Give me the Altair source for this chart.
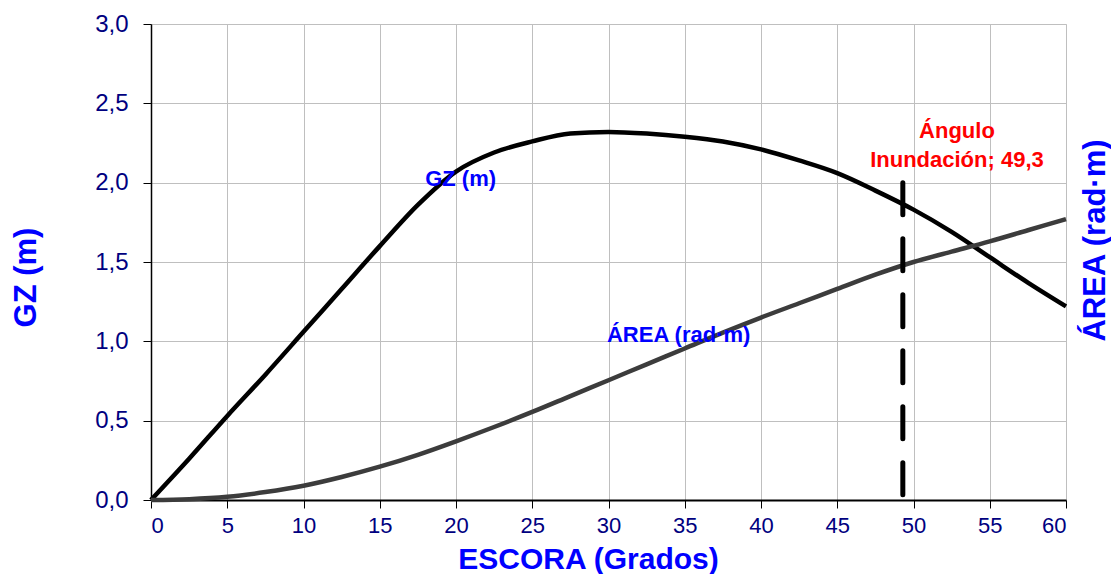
import altair as alt
import pandas as pd

# ---- data ----
escora = [0, 2.5, 5, 7.5, 10, 12.5, 15, 17.5, 20, 22.5, 25, 27.5, 30, 32.5, 35,
          37.5, 40, 42.5, 45, 47.5, 50, 52.5, 55, 57.5, 60]
gz = [0.0, 0.26, 0.53, 0.79, 1.06, 1.33, 1.60, 1.86, 2.07, 2.19, 2.26, 2.31, 2.32,
      2.31, 2.29, 2.26, 2.21, 2.14, 2.06, 1.95, 1.83, 1.69, 1.53, 1.37, 1.22]
area = [0.0, 0.005, 0.02, 0.05, 0.09, 0.145, 0.21, 0.285, 0.37, 0.46, 0.555, 0.655,
        0.755, 0.855, 0.955, 1.055, 1.15, 1.24, 1.33, 1.42, 1.50, 1.565, 1.63, 1.70, 1.77]
flood_angle = 49.3
flood_top = 2.0
x_ticks = [0, 5, 10, 15, 20, 25, 30, 35, 40, 45, 50, 55, 60]
y_ticks = [0.0, 0.5, 1.0, 1.5, 2.0, 2.5, 3.0]

df = pd.DataFrame({"escora": escora, "gz": gz, "area": area})

FONT = "Liberation Sans"
NAVY = "#000080"
BLUE = "#0000ff"

xscale = alt.Scale(domain=[0, 60], nice=False, zero=False)
yscale = alt.Scale(domain=[0, 3], nice=False)

xaxis = alt.Axis(values=x_ticks, title="ESCORA (Grados)", labelFontSize=22,
                 labelColor=NAVY, labelFont=FONT, labelPadding=7,
                 tickSize=8, tickColor="#000000", domainColor="#000000",
                 domainWidth=2, gridColor="#bfbfbf", gridWidth=1,
                 titleFontSize=30, titleFontWeight="bold", titleColor=BLUE,
                 titleFont=FONT, titleX=437, titleY=68,
                 titleBaseline="alphabetic", titleAlign="center")

yaxis = alt.Axis(values=y_ticks, title="GZ (m)",
                 labelExpr="replace(format(datum.value, '.1f'), '.', ',')",
                 labelFontSize=24, labelColor=NAVY, labelFont=FONT,
                 labelPadding=15, tickSize=8, tickColor="#000000",
                 domainColor="#000000", domainWidth=1.5,
                 gridColor="#bfbfbf", gridWidth=1,
                 titleFontSize=31, titleFontWeight="bold", titleColor=BLUE,
                 titleFont=FONT, titleAngle=270, titleX=-116, titleY=253,
                 titleBaseline="alphabetic", titleAlign="center")

yaxis_r = alt.Axis(orient="right", labels=False, ticks=False, domain=False,
                   grid=False, title="ÁREA (rad·m)", titleFontSize=31,
                   titleFontWeight="bold", titleColor=BLUE, titleFont=FONT,
                   titleAngle=270, titleX=38, titleY=216,
                   titleBaseline="alphabetic", titleAlign="center")

base = alt.Chart(df)

gz_line = base.mark_line(color="#000000", strokeWidth=4.5,
                         interpolate="monotone").encode(
    x=alt.X("escora:Q", scale=xscale, axis=xaxis),
    y=alt.Y("gz:Q", scale=yscale, axis=yaxis),
)

area_line = base.mark_line(color="#3c3c3c", strokeWidth=4.5,
                           interpolate="monotone").encode(
    x=alt.X("escora:Q", scale=xscale),
    y=alt.Y("area:Q", scale=yscale, axis=yaxis_r),
)

flood = alt.Chart(pd.DataFrame({"a": [flood_angle], "top": [flood_top]})).mark_rule(
    color="#000000", strokeWidth=5, strokeDash=[32, 24], strokeCap="round"
).encode(
    x=alt.X("a:Q", scale=xscale),
    y=alt.Y("top:Q", scale=yscale, axis=None),
    y2=alt.datum(0),
)

def label(txt, x, y, color, size):
    return alt.Chart(pd.DataFrame({"t": [txt]})).mark_text(
        font=FONT, fontSize=size, fontWeight="bold", color=color,
        align="center", baseline="alphabetic"
    ).encode(x=alt.datum(x, scale=xscale), y=alt.datum(y, scale=yscale, axis=None),
             text="t:N")

lbl_gz = label("GZ (m)", 20.3, 1.98, BLUE, 22)
lbl_area = label("ÁREA (rad·m)", 34.6, 0.995, BLUE, 22)
lbl_fl1 = label("Ángulo", 52.85, 2.28, "#ff0000", 22)
lbl_fl2 = label("Inundación; " + str(flood_angle).replace(".", ","), 52.85, 2.10,
                "#ff0000", 22)

chart = alt.layer(gz_line, area_line, flood, lbl_gz, lbl_area, lbl_fl1, lbl_fl2).resolve_axis(
    y="independent"
).properties(
    width=915, height=476,
    autosize=alt.AutoSizeParams(type="none"),
    padding={"left": 143, "top": 16, "right": 45, "bottom": 74},
).configure_view(
    stroke="#8c8c8c", strokeWidth=2
).configure(font=FONT)

chart.save("out.html", embed_options={"renderer": "svg", "actions": False})
